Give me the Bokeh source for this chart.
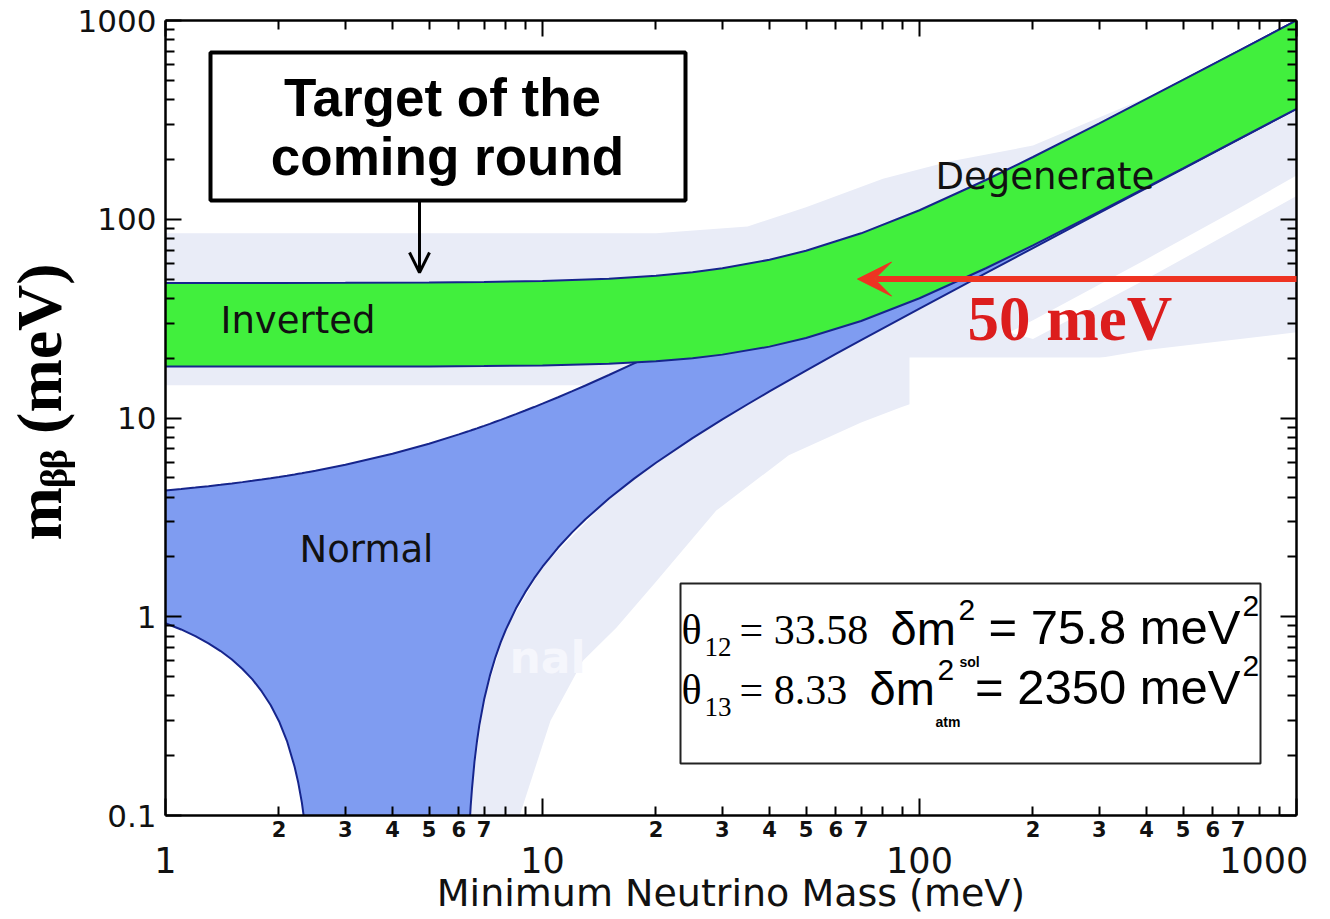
from bokeh.plotting import figure
from bokeh.models import (Range1d, LogAxis, FixedTicker, Label, Arrow, VeeHead,
                          OpenHead, BoxAnnotation)
from bokeh.embed import file_html
from bokeh.resources import INLINE

# ---------------- values ----------------
# Normal ordering band (m_bb in meV vs lightest neutrino mass in meV).
# 0.01 marks a lower edge that has dropped below the 0.1 floor of the axis.
nh_mass = [1, 1.1, 1.2, 1.3, 1.4, 1.5, 1.6, 1.7, 1.8, 1.9,
           2, 2.1, 2.2, 2.25, 2.3, 2.35, 2.4, 2.5,
           3, 4, 5, 6,
           6.3, 6.4, 6.45, 6.5, 6.6, 6.7, 6.8,
           7, 7.25, 7.5, 7.75, 8, 8.5, 9, 9.5, 10,
           11, 12, 13, 15, 17.5, 20, 25, 30, 35, 40,
           50, 60, 70, 100, 150, 200, 300, 500, 700, 1000]
nh_upper = [4.322, 4.394, 4.466, 4.538, 4.610, 4.683, 4.757, 4.830, 4.904, 4.979,
            5.053, 5.128, 5.203, 5.241, 5.278, 5.316, 5.354, 5.430,
            5.816, 6.609, 7.427, 8.269,
            8.526, 8.611, 8.654, 8.698, 8.784, 8.870, 8.957,
            9.130, 9.348, 9.568, 9.788, 10.009, 10.453, 10.901, 11.352, 11.805,
            12.719, 13.643, 14.573, 16.452, 18.827, 21.224, 26.061, 30.937, 35.839, 40.760,
            50.637, 60.547, 70.479, 100.35, 150.23, 200.18, 300.12, 500.07, 700.04, 1000.03]
nh_lower = [0.928, 0.863, 0.799, 0.735, 0.672, 0.609, 0.546, 0.484, 0.421, 0.360,
            0.298, 0.237, 0.176, 0.146, 0.116, 0.086, 0.055, 0.01,
            0.01, 0.01, 0.01, 0.01,
            0.036, 0.087, 0.112, 0.136, 0.186, 0.235, 0.285,
            0.383, 0.504, 0.625, 0.745, 0.864, 1.099, 1.330, 1.559, 1.785,
            2.230, 2.665, 3.094, 3.933, 4.955, 5.956, 7.914, 9.833, 11.726, 13.600,
            17.313, 20.993, 24.651, 35.554, 53.616, 71.624, 107.58, 179.43, 251.26, 358.97]

# Inverted ordering band
ih_mass = [1, 2, 3, 5, 7, 10, 15, 20, 25, 30, 40, 50, 70, 100, 150, 200, 300,
           500, 700, 1000]
ih_upper = [47.72, 47.77, 47.85, 48.05, 48.33, 48.90, 50.22, 51.97, 54.13, 56.64,
            62.55, 69.39, 84.96, 111.0, 157.55, 205.72, 303.84, 502.31, 701.65,
            1001.15]
ih_lower = [18.17, 18.16, 18.16, 18.18, 18.24, 18.37, 18.75, 19.29, 20.00, 20.84,
            22.86, 25.25, 30.75, 40.03, 56.68, 73.95, 109.14, 180.37, 251.93,
            359.45]

# faint background (ghost) bands behind the plot
ghost_ih_x = [1, 20, 35, 50, 80, 120, 200, 400, 700, 1000]
ghost_ih_upper = [85, 85, 92, 115, 160, 195, 235, 410, 705, 1005]
ghost_ih_lower = [14.6, 14.6, 14.6, 14.8, 15.5, 19, 31, 63, 113, 166]
ghost_nh_x = [8.2, 8.7, 10.5, 12.8, 15.7, 20, 28.9, 45, 70, 89, 150, 400, 1000,
              1000, 400, 200, 100, 70, 50, 40, 30, 20, 15, 10, 8, 7, 6.5, 6.3]
ghost_nh_y = [0.05, 0.1, 0.3, 0.6, 0.88, 1.5, 3.42, 6.5, 9.5, 11.3, 16, 22, 27,
              131, 50, 25, 35.55, 24.65, 17.31, 13.6, 9.83, 5.96, 3.93, 1.785,
              0.864, 0.383, 0.136, 0.036]

target_mass = [50]  # meV, red arrow

# ticks and tick labels
x_major_ticks = [1, 10, 100, 1000]
x_major_labels = ["1", "10", "100", "1000\u2007"]
x_minor_ticks = [2, 3, 4, 5, 6, 7, 8, 9, 20, 30, 40, 50, 60, 70, 80, 90,
                 200, 300, 400, 500, 600, 700, 800, 900]
x_minor_label_ticks = [2, 3, 4, 5, 6, 7, 20, 30, 40, 50, 60, 70,
                       200, 300, 400, 500, 600, 700]
x_minor_labels = ["2", "3", "4", "5", "6", "7"] * 3
y_major_ticks = [0.1, 1, 10, 100, 1000]
y_major_labels = ["0.1", "1", "10", "100", "1000"]
y_minor_ticks = [0.2, 0.3, 0.4, 0.5, 0.6, 0.7, 0.8, 0.9,
                 2, 3, 4, 5, 6, 7, 8, 9, 20, 30, 40, 50, 60, 70, 80, 90,
                 200, 300, 400, 500, 600, 700, 800, 900]

# ---------------- styling ----------------
GREEN = "#41ef3d"
BLUE = "#7f9cf1"
NAVY = "#16258c"
GHOST = "#e9ecf7"
RED_ARROW = "#ee3322"
RED_TEXT = "#dc1d1d"
SANS = "DejaVu Sans"
SERIF = "Liberation Serif"
HEL = "Liberation Sans"
INK = "#111111"

# reference-pixel -> data helpers for annotation placement
PX_X0, PX_DEC_X = 163.0, 377.0
PX_Y0, PX_DEC_Y = 815.0, 198.75


def at_x(px):
    return 10 ** ((px - PX_X0) / PX_DEC_X)


def at_y(py):
    return 10 ** (-1 + (PX_Y0 - py) / PX_DEC_Y)


p = figure(x_axis_type="log", y_axis_type="log",
           x_range=Range1d(1, 1000), y_range=Range1d(0.1, 1000),
           frame_width=1131, frame_height=795,
           min_border_left=163, min_border_right=34,
           min_border_top=20, min_border_bottom=102,
           output_backend="svg", toolbar_location=None)
p.grid.visible = False
p.outline_line_color = None
p.background_fill_color = "white"
p.border_fill_color = "white"


def tick_style(ax, ticks, minor):
    ax.ticker = FixedTicker(ticks=ticks, minor_ticks=minor)
    ax.axis_line_width = 2.5
    ax.axis_line_color = "black"
    ax.major_tick_in = 16
    ax.major_tick_out = 0
    ax.minor_tick_in = 9
    ax.minor_tick_out = 0
    ax.major_tick_line_width = 2
    ax.minor_tick_line_width = 2
    ax.major_tick_line_color = "black"
    ax.minor_tick_line_color = "black"


def hide_labels(ax, ticks):
    ax.major_label_overrides = {t: "" for t in ticks}
    ax.major_label_text_font_size = "0px"
    ax.major_label_standoff = 0


def label_only(ax, ticks, labels, size, style, standoff):
    ax.ticker = FixedTicker(ticks=ticks, minor_ticks=[])
    ax.axis_line_color = None
    ax.major_tick_line_color = None
    ax.minor_tick_line_color = None
    ax.major_tick_in = 0
    ax.major_tick_out = 0
    ax.minor_tick_in = 0
    ax.minor_tick_out = 0
    ax.major_label_overrides = dict(zip(ticks, labels))
    ax.major_label_text_font = SANS
    ax.major_label_text_font_size = size
    ax.major_label_text_font_style = style
    ax.major_label_text_color = INK
    ax.major_label_standoff = standoff


# bottom: ticks on the frame, then the 2..7 numbers, then the decades + title
xa1 = p.xaxis[0]
tick_style(xa1, x_major_ticks, x_minor_ticks)
xa1.major_tick_in = 17
hide_labels(xa1, x_major_ticks)
xa2 = LogAxis()
label_only(xa2, x_minor_label_ticks, x_minor_labels, "21px", "bold", 5)
p.add_layout(xa2, "below")
xa3 = LogAxis()
label_only(xa3, x_major_ticks, x_major_labels, "35px", "normal", 1)
xa3.axis_label = "Minimum Neutrino Mass (meV)"
xa3.axis_label_text_font = SANS
xa3.axis_label_text_font_size = "38px"
xa3.axis_label_text_font_style = "normal"
xa3.axis_label_text_color = INK
xa3.axis_label_standoff = -13
p.add_layout(xa3, "below")

# left: ticks, numbers and title
ya = p.yaxis[0]
tick_style(ya, y_major_ticks, y_minor_ticks)
ya.major_label_overrides = dict(zip(y_major_ticks, y_major_labels))
ya.major_label_text_font = SANS
ya.major_label_text_font_size = "31px"
ya.major_label_text_color = INK
ya.major_label_standoff = 9
ya.axis_label = "\u2002m\u1d66\u1d66 (meV)"
ya.axis_label_text_font = SERIF
ya.axis_label_text_font_size = "64px"
ya.axis_label_text_font_style = "bold"
ya.axis_label_text_color = "black"
ya.axis_label_standoff = 0

top_ax = LogAxis()
tick_style(top_ax, x_major_ticks, x_minor_ticks)
hide_labels(top_ax, x_major_ticks)
p.add_layout(top_ax, "above")
right_ax = LogAxis()
tick_style(right_ax, y_major_ticks, y_minor_ticks)
hide_labels(right_ax, y_major_ticks)
p.add_layout(right_ax, "right")

# ---------------- background ghost ----------------
p.patch(ghost_ih_x + ghost_ih_x[::-1], ghost_ih_upper + ghost_ih_lower[::-1],
        fill_color=GHOST, line_color=None)
p.patch(ghost_nh_x, ghost_nh_y, fill_color=GHOST, line_color=None)
p.quad(left=[at_x(907)], right=[1000], bottom=[at_y(583)], top=[at_y(357)],
       fill_color="white", line_color=None)

# ---------------- bands ----------------
p.patch(nh_mass + nh_mass[::-1], nh_upper + nh_lower[::-1],
        fill_color=BLUE, line_color=None)
p.line(nh_mass, nh_upper, line_color=NAVY, line_width=2)
p.line(nh_mass, nh_lower, line_color=NAVY, line_width=2)
p.patch(ih_mass + ih_mass[::-1], ih_upper + ih_lower[::-1],
        fill_color=GREEN, line_color=None)
p.line(ih_mass, ih_upper, line_color=NAVY, line_width=2)
p.line(ih_mass, ih_lower, line_color=NAVY, line_width=2)


def lab(px, py, text, font=SANS, size=37, style="normal", color=INK, align="left"):
    # py is the wanted baseline in reference pixels
    p.add_layout(Label(x=at_x(px), y=at_y(py - 0.37 * size), text=text,
                       text_font=font, text_font_size=f"{size}px",
                       text_font_style=style, text_color=color,
                       text_align=align, text_baseline="alphabetic"))


# ghost text
lab(507, 673, "nal", size=44, style="bold", color="#f5f6fc")

# region names
lab(218, 334, "Inverted")
lab(297, 563, "Normal")
lab(933, 190, "Degenerate")

# target box and arrow
p.add_layout(BoxAnnotation(left=at_x(208), right=at_x(683), bottom=at_y(200),
                           top=at_y(52), fill_color="white", fill_alpha=1.0,
                           line_color="black", line_width=4, line_alpha=1.0))
lab(440, 117, "Target of the", font=HEL, size=53, style="bold", color="black",
    align="center")
lab(445, 176, "coming round", font=HEL, size=53, style="bold", color="black",
    align="center")
p.add_layout(Arrow(end=OpenHead(size=20, line_width=3, line_color="black"),
                   x_start=at_x(417), y_start=at_y(201),
                   x_end=at_x(417), y_end=at_y(272),
                   line_color="black", line_width=3))

# red 50 meV arrow
p.add_layout(Arrow(end=VeeHead(size=34, fill_color=RED_ARROW, line_color=RED_ARROW),
                   x_start=at_x(1400), y_start=target_mass[0],
                   x_end=at_x(855), y_end=target_mass[0],
                   line_color=RED_ARROW, line_width=6))
lab(965, 342, "50 meV", font=SERIF, size=63, style="bold", color=RED_TEXT)

# parameter box
p.add_layout(BoxAnnotation(left=at_x(678), right=at_x(1258), bottom=at_y(763),
                           top=at_y(583), fill_color="white", fill_alpha=1.0,
                           line_color="#222222", line_width=2, line_alpha=1.0))
for base, sub, val, d0, sup_x, lo_txt, lo_x, rhs in [
        (645, "12", "= 33.58", 888, 956, "sol", 957, "= 75.8 meV"),
        (705, "13", "= 8.33", 867, 935, "atm", 933, "= 2350 meV")]:
    lab(679, base, "θ", font=SERIF, size=42, color="black")
    lab(702, base + 11, sub, font=SERIF, size=27, color="black")
    lab(737, base, val, font=SERIF, size=42, color="black")
    lab(d0, base, "δm", font=HEL, size=47, color="black")
    lab(sup_x, base - 24, "2", font=HEL, size=30, color="black")
    lab(lo_x, base + 22, lo_txt, font=HEL, size=14, style="bold", color="black")
    lab(1238, base, rhs, font=HEL, size=49, color="black", align="right")
    lab(1240, base - 28, "2", font=HEL, size=30, color="black")

open("out.html", "w").write(file_html(p, INLINE))
